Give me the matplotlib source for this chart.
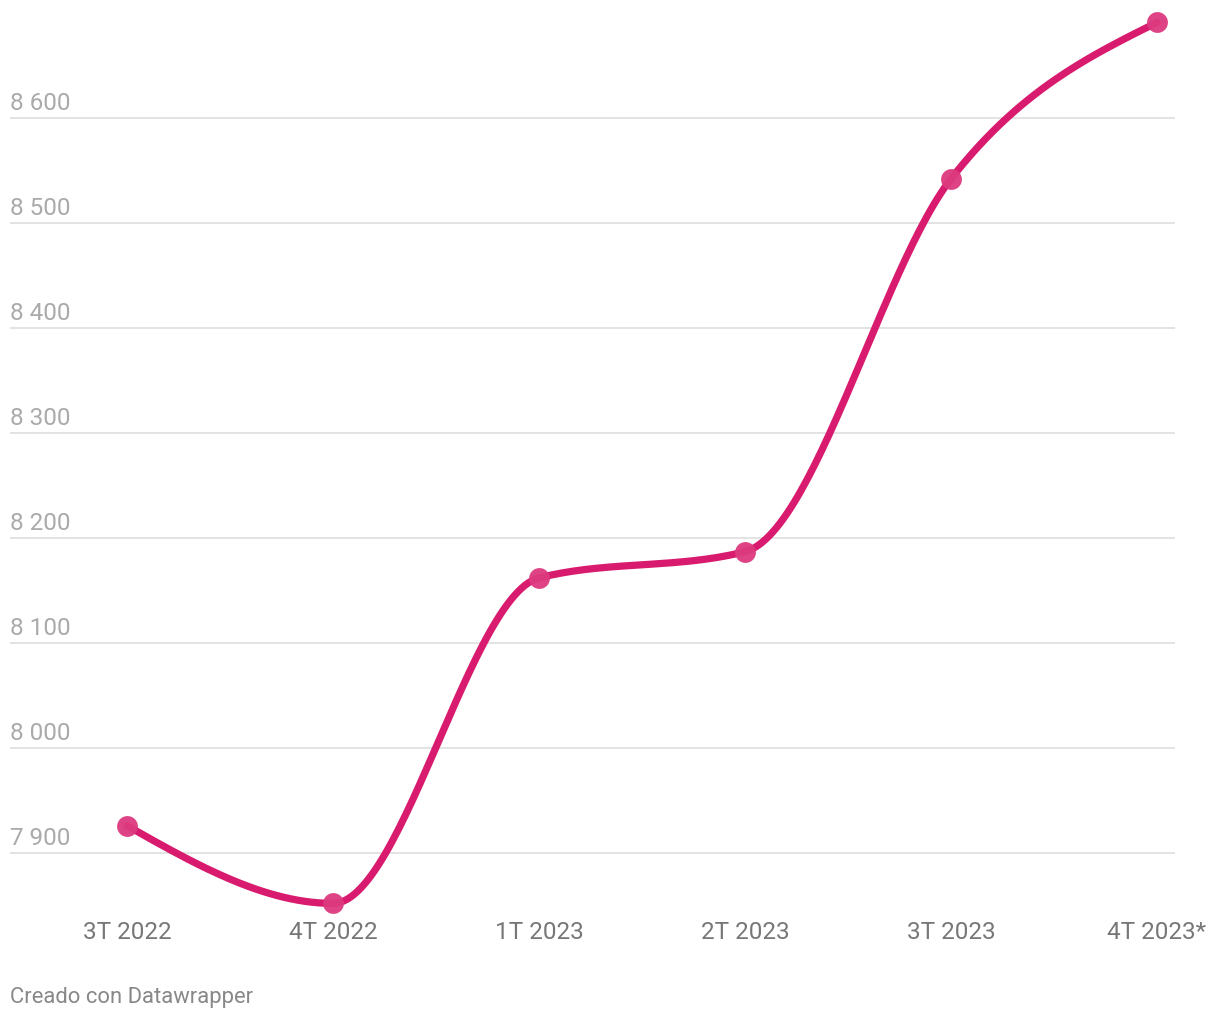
import numpy as np
import matplotlib
matplotlib.use("Agg")
import matplotlib.pyplot as plt

plt.rcParams['font.family'] = ['Roboto', 'DejaVu Sans']

categories = ["3T 2022", "4T 2022", "1T 2023", "2T 2023", "3T 2023", "4T 2023*"]
values = [7926, 7852, 8162, 8187, 8542, 8691]
yticks = [7900, 8000, 8100, 8200, 8300, 8400, 8500, 8600]
ytick_labels = ["7 900", "8 000", "8 100", "8 200", "8 300", "8 400", "8 500", "8 600"]
footer = "Creado con Datawrapper"

LINE = "#d81b6e"
MARK = "#dd3a7e"

def monotone_x(x, y, n=60):
    x = np.asarray(x, float); y = np.asarray(y, float)
    h = np.diff(x); s = np.diff(y) / h
    m = np.zeros_like(y)
    for i in range(1, len(y) - 1):
        if s[i - 1] * s[i] <= 0:
            m[i] = 0
        else:
            p = (s[i - 1] * h[i] + s[i] * h[i - 1]) / (h[i - 1] + h[i])
            m[i] = (np.sign(s[i - 1]) + np.sign(s[i])) * min(abs(s[i - 1]), abs(s[i]), 0.5 * abs(p))
    m[0] = (3 * s[0] - m[1]) / 2 if len(y) > 2 else s[0]
    m[-1] = (3 * s[-1] - m[-2]) / 2
    xs, ys = [], []
    for i in range(len(h)):
        t = np.linspace(0, 1, n)
        h00 = 2 * t**3 - 3 * t**2 + 1
        h10 = t**3 - 2 * t**2 + t
        h01 = -2 * t**3 + 3 * t**2
        h11 = t**3 - t**2
        xs.append(x[i] + t * h[i])
        ys.append(h00 * y[i] + h10 * h[i] * m[i] + h01 * y[i + 1] + h11 * h[i] * m[i + 1])
    return np.concatenate(xs), np.concatenate(ys)

W, H = 1220, 1020
fig = plt.figure(figsize=(W / 100, H / 100), dpi=100)

left_px, right_px, top_px, bot_px = 10, 1175, 10, 910
ax = fig.add_axes([left_px / W, 1 - bot_px / H, (right_px - left_px) / W, (bot_px - top_px) / H])

x = np.arange(len(categories))
ax.set_xlim((left_px - 127) / 206, (right_px - 127) / 206)
ax.set_ylim(7900 - (bot_px - 854) / 1.05, 7900 + (854 - top_px) / 1.05)

for t, lab in zip(yticks, ytick_labels):
    ax.axhline(t, color="#e3e3e3", lw=1.4, zorder=1)
    ax.annotate(lab, xy=(0, t), xycoords=ax.get_yaxis_transform(), xytext=(0, 3),
                textcoords="offset points", ha="left", va="bottom",
                fontsize=17.5, color="#aaaaaa")

xs, ys = monotone_x(x, values)
ax.plot(xs, ys, color=LINE, lw=5.2, solid_capstyle="round", zorder=3, clip_on=False)
ax.plot(x, values, "o", color=MARK, ms=15, alpha=0.95, mec="none", zorder=4, clip_on=False)

ax.set_xticks(x)
ax.set_xticklabels(categories, fontsize=17.5, color="#777777")
ax.tick_params(axis="x", length=0, pad=8)
ax.set_yticks([])
for sp in ax.spines.values():
    sp.set_visible(False)

fig.text(10 / W, 1 - 998 / H, footer, ha="left", va="center", fontsize=15.8, color="#888888")

fig.savefig("out.png", dpi=100, facecolor="white")
